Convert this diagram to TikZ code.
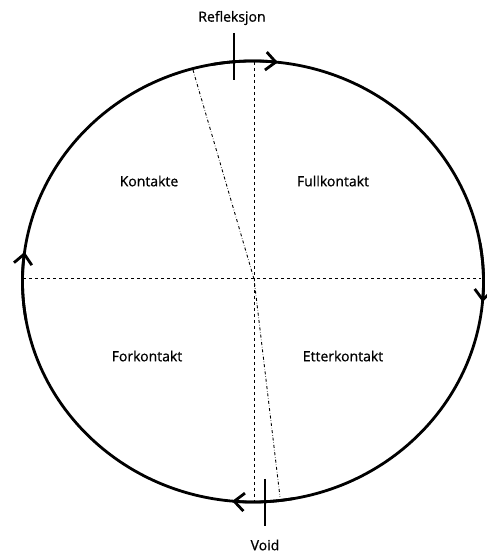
\documentclass[tikz,border=0pt]{standalone}
\usepackage{fontspec}
\setmainfont{Open Sans}
\newfontfamily\lblfont[FakeBold=0.7]{Open Sans}
\usepackage{tikz}
\usetikzlibrary{arrows.meta,calc}

\begin{document}
\begin{tikzpicture}[x=1pt,y=1pt,
    lbl/.style={font=\lblfont\fontsize{14}{16}\selectfont, inner sep=1pt},
    flow/.style={line width=2.8pt, -{Straight Barb[length=10pt,width=18pt]}},
    tick/.style={line width=1.3pt}]
  \useasboundingbox (0,0) rectangle (487,557);
  \coordinate (C) at (253,275.5); % sentrum
  \draw[line width=2.8pt] (C) ellipse[x radius=230.5,y radius=220.5]; % sirkelen
  \draw[flow] ($(C)+(100:230.5 and 220.5)$) arc[start angle=100,end angle=83.8,x radius=230.5,y radius=220.5]; % topp
  \draw[flow] ($(C)+(10:230.5 and 220.5)$) arc[start angle=10,end angle=-5.3,x radius=230.5,y radius=220.5]; % hoyre
  \draw[flow] ($(C)+(-80:230.5 and 220.5)$) arc[start angle=-80,end angle=-95.2,x radius=230.5,y radius=220.5]; % bunn
  \draw[flow] ($(C)+(190:230.5 and 220.5)$) arc[start angle=190,end angle=172.3,x radius=230.5,y radius=220.5]; % venstre
  \coordinate (W) at (23,279);
  \coordinate (E) at (481,279);
  \coordinate (N) at (254,495);
  \coordinate (S) at (254,56);
  \draw[dashed, line width=0.9pt] (W) -- (E); % horisontal akse
  \draw[dashed, line width=0.9pt] (N) -- (S); % vertikal akse
  \coordinate (dt) at (193,487);
  \coordinate (dm) at (254,278);
  \coordinate (db) at (280,60);
  \draw[dash dot, line width=0.9pt] (dt) -- (dm) -- (db); % skra linje
  \node[lbl] (refl) at (232,539) {Refleksjon};
  \node[lbl] (void) at (265,12) {Void};
  \coordinate (rt) at (234,524);
  \coordinate (rb) at (234,477);
  \coordinate (vt) at (265,78);
  \coordinate (vb) at (265,31);
  \draw[tick] (rt) -- (rb); % merke for refleksjon
  \draw[tick] (vt) -- (vb); % merke for void
  \node[lbl] (kont) at (149,376) {Kontakte};
  \node[lbl] (full) at (333,376) {Fullkontakt};
  \node[lbl] (fork) at (147,201) {Forkontakt};
  \node[lbl] (ett) at (343,201) {Etterkontakt};
\end{tikzpicture}
\end{document}
